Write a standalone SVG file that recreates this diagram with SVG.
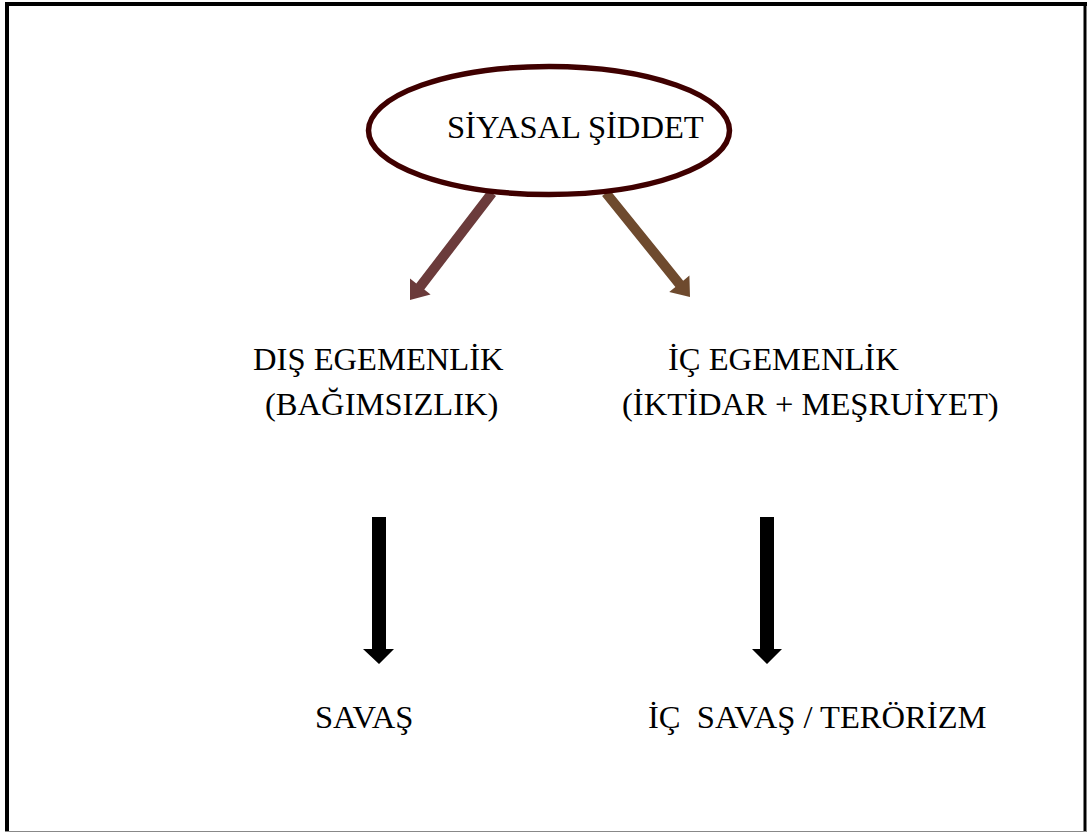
<svg xmlns="http://www.w3.org/2000/svg" width="1087" height="834" viewBox="0 0 1087 834">
<style>
.t{font-family:"Liberation Serif","Times New Roman",serif;font-size:32.6px;fill:#000;}
</style>
<rect x="0" y="0" width="1087" height="834" fill="#fff"/>
<g id="frame">
<line x1="7" y1="2" x2="7" y2="832" stroke="#000" stroke-width="4"/>
<line x1="5" y1="4" x2="1087" y2="4" stroke="#000" stroke-width="4"/>
<line x1="1085" y1="2" x2="1085" y2="832" stroke="#000" stroke-width="3"/>
<line x1="5" y1="831.5" x2="1087" y2="831.5" stroke="#888" stroke-width="1"/>
</g>
<g id="connectors">
<polygon points="496,196 424.3,289.5 430.6,294.4 410,300 410,278.6 416.3,283.5 488,190" fill="#6b3b3b"/>
<polygon points="609.9,189.9 683.2,280.7 689.4,275.6 690,297 669.2,292 675.4,286.9 602.1,196.1" fill="#6e4a2e"/>
<polygon points="372,517 386,517 386,649 394,649 379,664 363,649 372,649" fill="#000"/>
<polygon points="760,517 774,517 774,649 782,649 767,664 752,649 760,649" fill="#000"/>
</g>
<g id="siyasal-siddet">
<ellipse cx="549" cy="130.5" rx="180.5" ry="64" fill="#fff" stroke="#3f0000" stroke-width="5.5"/>
<text class="t" x="447" y="138">SİYASAL ŞİDDET</text>
</g>
<g id="dis-egemenlik">
<text class="t" x="253" y="370">DIŞ EGEMENLİK</text>
<text class="t" x="265" y="415">(BAĞIMSIZLIK)</text>
</g>
<g id="ic-egemenlik">
<text class="t" x="668" y="370">İÇ EGEMENLİK</text>
<text class="t" x="622" y="415">(İKTİDAR + MEŞRUİYET)</text>
</g>
<g id="savas">
<text class="t" x="315" y="728">SAVAŞ</text>
</g>
<g id="ic-savas">
<text class="t" x="648" y="728" xml:space="preserve">İÇ  SAVAŞ / TERÖRİZM</text>
</g>
</svg>
